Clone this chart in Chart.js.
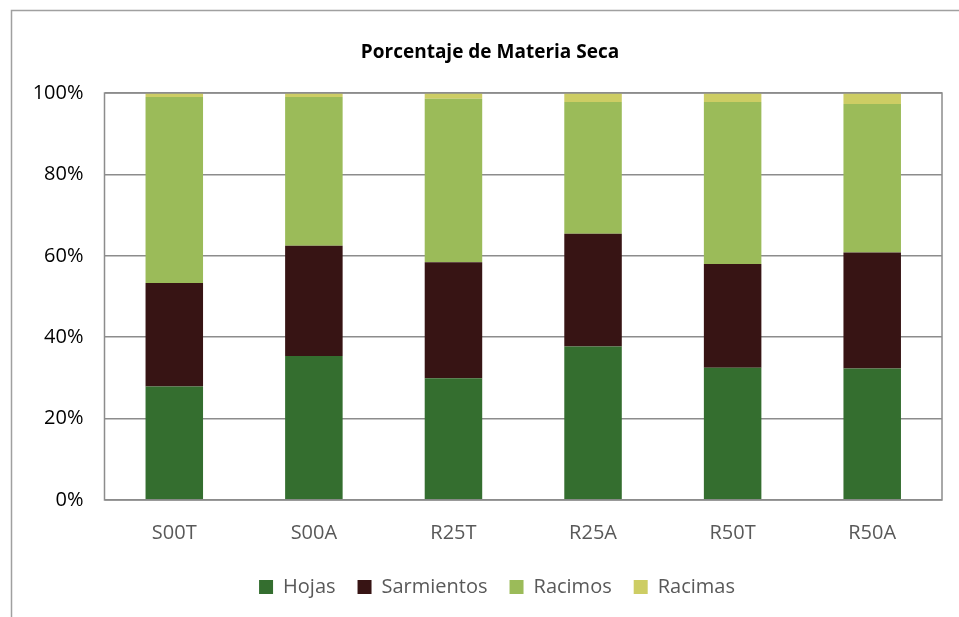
<!DOCTYPE html>
<html>
<head>
<meta charset="utf-8">
<script src="https://cdn.jsdelivr.net/npm/chart.js@4.4.1/dist/chart.umd.min.js"></script>
<style>
  html, body { margin: 0; padding: 0; background: #fff; }
  #wrap { width: 959px; height: 617px; position: relative; }
</style>
</head>
<body>
<div id="wrap"><canvas id="materiaSecaChart" width="959" height="617"></canvas></div>
<script>
// categories and stacked shares (% of total dry matter)
const tratamientos = ["S00T", "S00A", "R25T", "R25A", "R50T", "R50A"];
const hojas = [27.9, 35.4, 29.9, 37.7, 32.5, 32.3];
const sarmientos = [25.4, 27.1, 28.5, 27.7, 25.5, 28.5];
const racimos = [45.7, 36.5, 40.2, 32.4, 39.8, 36.5];
const racimas = [1.0, 1.0, 1.4, 2.2, 2.2, 2.7];
const yTicks = [0, 20, 40, 60, 80, 100];

const FONT = "'Open Sans', 'Noto Sans', sans-serif";

// outer frame, plot border and title
const framePlugin = {
  id: "frame",
  afterLayout(chart) {
    // center the legend under the whole frame instead of the canvas
    chart.legend.left += 26;
    chart.legend.right += 26;
  },
  beforeDraw(chart) {
    const c = chart.ctx;
    c.save();
    c.strokeStyle = "#a0a0a0";
    c.lineWidth = 1.5;
    c.beginPath();
    c.moveTo(11.5, 617);
    c.lineTo(11.5, 10.5);
    c.lineTo(959, 10.5);
    c.stroke();
    c.restore();
  },
  afterDraw(chart) {
    const a = chart.chartArea;
    const c = chart.ctx;
    c.save();
    c.strokeStyle = "#8c8c8c";
    c.lineWidth = 1.5;
    c.strokeRect(a.left, a.top, a.right - a.left, a.bottom - a.top);
    c.fillStyle = "#000";
    c.font = "bold 19px " + FONT;
    c.textAlign = "center";
    c.textBaseline = "middle";
    c.fillText("Porcentaje de Materia Seca", 490, 53);
    c.restore();
  },
};

const ctx = document.getElementById("materiaSecaChart").getContext("2d");
const materiaSecaChart = new Chart(ctx, {
  type: "bar",
  data: {
    labels: tratamientos,
    datasets: [
      { label: "Hojas", data: hojas, backgroundColor: "#346e2f" },
      { label: "Sarmientos", data: sarmientos, backgroundColor: "#371414" },
      { label: "Racimos", data: racimos, backgroundColor: "#9bbb59" },
      { label: "Racimas", data: racimas, backgroundColor: "#cdcd64" },
    ],
  },
  options: {
    responsive: false,
    animation: false,
    layout: { padding: { top: 93, right: 17, left: 0, bottom: 10 } },
    datasets: {
      bar: { categoryPercentage: 1, barPercentage: 0.412, borderWidth: 0 },
    },
    scales: {
      x: {
        stacked: true,
        grid: { display: false },
        border: { display: false },
        ticks: { color: "#595959", padding: 13, font: { family: FONT, size: 20 } },
        afterFit(scale) { scale.height = 55; },
      },
      y: {
        stacked: true,
        min: 0,
        max: 100,
        afterBuildTicks(scale) { scale.ticks = yTicks.map((v) => ({ value: v })); },
        grid: { color: "#8c8c8c", lineWidth: 1.5, drawTicks: false },
        border: { display: false },
        ticks: {
          color: "#000",
          padding: 21,
          font: { family: FONT, size: 20 },
          callback: (v) => v + "%",
        },
        afterFit(scale) { scale.width = 104.5; },
      },
    },
    plugins: {
      legend: {
        position: "bottom",
        labels: {
          color: "#595959",
          boxWidth: 14,
          boxHeight: 14,
          padding: 22,
          font: { family: FONT, size: 20 },
        },
      },
      title: { display: false },
      tooltip: { enabled: false },
    },
  },
  plugins: [framePlugin],
});
</script>
</body>
</html>
